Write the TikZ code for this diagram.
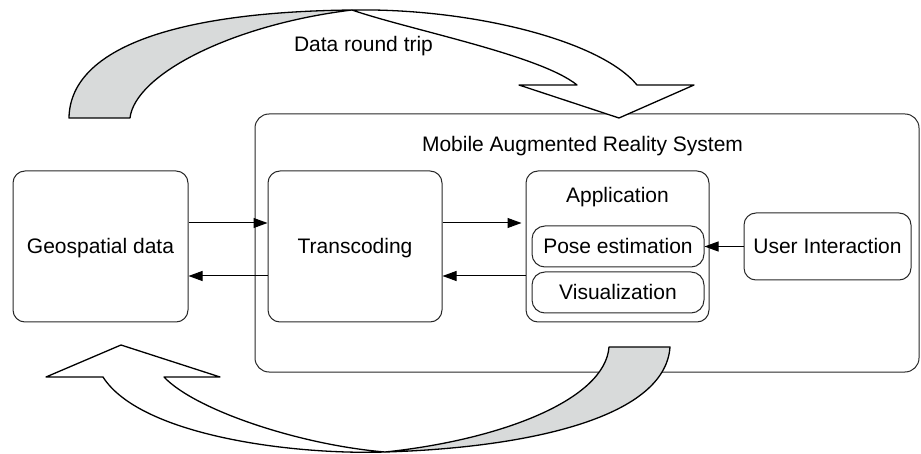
\documentclass[tikz,border=0pt]{standalone}
\usepackage{fontspec}
\setmainfont{Liberation Sans}
\usetikzlibrary{arrows.meta}
\definecolor{ribbongrey}{RGB}{216,218,218}
\definecolor{edge}{RGB}{40,40,40}
\begin{document}
\begin{tikzpicture}[x=1pt,y=-1pt,
  font=\fontsize{21}{25}\selectfont,
  box/.style={draw=edge, line width=1pt, rounded corners=12pt, inner sep=0pt,
              text height=14pt, text depth=0pt},
  flow/.style={-{Triangle[length=14pt,width=10pt]}, line width=1pt},
  ribbon/.style={draw=black, line width=1.3pt, line join=round}]
\useasboundingbox (0,0) rectangle (921,454);

% system frame
\node[box, rounded corners=14pt, minimum width=664pt, minimum height=258pt] (mars) at (587,243) {};
\node[anchor=base] (title) at (582.5,151.5) {Mobile Augmented Reality System};

% components
\node[box, minimum width=175pt, minimum height=151pt] (geo) at (100.5,246.5) {Geospatial data};
\node[box, minimum width=174pt, minimum height=151pt] (trans) at (355,246.5) {Transcoding};
\node[box, minimum width=183pt, minimum height=151pt] (app) at (617.5,246.5) {};
\node[anchor=base] (applbl) at (617.5,202.5) {Application};
\node[box, rounded corners=13pt, minimum width=172pt, minimum height=41pt] (pose) at (618,246.5) {Pose estimation};
\node[box, rounded corners=13pt, minimum width=172pt, minimum height=41pt] (vis) at (618,292.5) {Visualization};
\node[box, minimum width=167pt, minimum height=67pt] (ui) at (827.5,246.5) {User Interaction};

% data flow
\draw[flow] ([yshift=23.5pt]geo.east) -- ([yshift=23.5pt]trans.west);
\draw[flow] ([yshift=-29.5pt]trans.west) -- ([yshift=-29.5pt]geo.east);
\draw[flow] ([yshift=23.5pt]trans.east) -- ([yshift=23.5pt,xshift=-4pt]app.west);
\draw[flow] ([yshift=-29.5pt]app.west) -- ([yshift=-29.5pt]trans.east);
\draw[flow] (ui.west) -- (pose.east);

% upper round-trip ribbon: grey back side, then white front side with head
\path[ribbon, fill=ribbongrey] (69,118) .. controls (70,50) and (170,12) .. (352,10)
  .. controls (230,25) and (135,75) .. (130,118) -- cycle;
\path[ribbon, fill=white] (352,10) .. controls (470,8) and (600,40) .. (637,85)
  -- (694,85) -- (619,118) -- (519,85) -- (577,85)
  .. controls (540,55) and (410,30) .. (352,10) -- cycle;
\node[anchor=base] (trip) at (363.5,51.5) {Data round trip};

% lower round-trip ribbon
\path[ribbon, fill=ribbongrey] (609,347) .. controls (605,400) and (500,440) .. (385,452)
  .. controls (520,448) and (665,420) .. (670,347) -- cycle;
\path[ribbon, fill=white] (385,452) .. controls (290,455) and (140,435) .. (103,377)
  -- (46,377) -- (121,345) -- (220,377) -- (164,377)
  .. controls (195,410) and (300,445) .. (385,452) -- cycle;
\end{tikzpicture}
\end{document}
